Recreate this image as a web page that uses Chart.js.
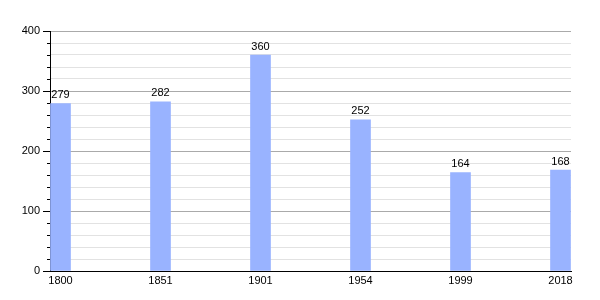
<!DOCTYPE html>
<html>
<head>
<meta charset="utf-8">
<script src="https://cdn.jsdelivr.net/npm/chart.js@4/dist/chart.umd.min.js"></script>
<style>
  body { margin: 0; background: #fff; }
</style>
</head>
<body>
<canvas id="chart" width="600" height="300"></canvas>
<script>
// population by census year
const years = ["1800", "1851", "1901", "1954", "1999", "2018"];
const population = [279, 282, 360, 252, 164, 168];
const yTicks = [0, 100, 200, 300, 400];

const ctx = document.getElementById("chart");

// value above each bar
const valueLabels = {
  id: "valueLabels",
  afterDatasetsDraw(chart) {
    const c = chart.ctx;
    const meta = chart.getDatasetMeta(0);
    c.save();
    c.font = "11px 'Liberation Sans', Arial, sans-serif";
    c.fillStyle = "#000";
    c.textAlign = "center";
    c.textBaseline = "alphabetic";
    meta.data.forEach((bar, i) => {
      c.fillText(String(population[i]), bar.x, bar.y - 5.5);
    });
    c.restore();
  },
};

// y tick marks: long at hundreds, short in between
const yTickMarks = {
  id: "yTickMarks",
  afterDraw(chart) {
    const s = chart.scales.y;
    const c = chart.ctx;
    c.save();
    c.strokeStyle = "#000";
    c.lineWidth = 1;
    s.ticks.forEach((t) => {
      const y = Math.round(s.getPixelForValue(t.value)) + 0.5;
      const len = t.value % 100 === 0 ? 7 : 3;
      c.beginPath();
      c.moveTo(s.right - len, y);
      c.lineTo(s.right, y);
      c.stroke();
    });
    c.restore();
  },
};

new Chart(ctx, {
  type: "bar",
  data: {
    datasets: [
      {
        data: population.map((v, i) => ({ x: i, y: v })),
        backgroundColor: "#99b3ff",
        borderWidth: 0,
        barThickness: 20,
      },
    ],
  },
  options: {
    responsive: false,
    animation: false,
    layout: { padding: { left: 0, right: 29, top: 31, bottom: 0 } },
    plugins: {
      legend: { display: false },
      tooltip: { enabled: false },
    },
    scales: {
      x: {
        type: "linear",
        offset: false,
        min: -0.105,
        max: 5.105,
        afterBuildTicks: (s) => {
          s.ticks = years.map((_, i) => ({ value: i }));
        },
        afterFit: (s) => {
          s.height = 29;
        },
        ticks: {
          autoSkip: false,
          callback: (v) => years[v],
          color: "#000",
          padding: 3,
          maxRotation: 0,
          font: { family: "'Liberation Sans', Arial, sans-serif", size: 11 },
        },
        grid: { display: false, drawTicks: false, offset: false },
        border: { display: true, color: "#000", width: 1 },
      },
      y: {
        min: 0,
        max: 400,
        afterBuildTicks: (s) => {
          const t = [];
          for (let v = 0; v <= 400; v += 20) t.push({ value: v });
          s.ticks = t;
        },
        afterFit: (s) => {
          s.width = 50;
        },
        ticks: {
          autoSkip: false,
          callback: (v) => (yTicks.includes(v) ? String(v) : ""),
          color: "#000",
          padding: 10,
          font: { family: "'Liberation Sans', Arial, sans-serif", size: 11 },
        },
        grid: {
          drawTicks: false,
          color: (c) =>
            c.tick.value === 0 ? "#000" : c.tick.value % 100 === 0 ? "#aaaaaa" : "#e2e2e2",
          lineWidth: 1,
        },
        border: { display: true, color: "#000", width: 1 },
      },
    },
  },
  plugins: [valueLabels, yTickMarks],
});
</script>
</body>
</html>
